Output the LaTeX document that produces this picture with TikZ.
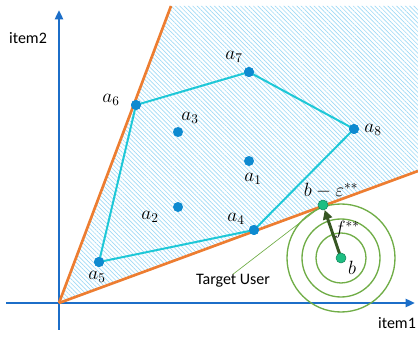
\documentclass[tikz,border=0pt]{standalone}
\usepackage{fontspec}
\newfontfamily\axisfont{Carlito}
\usetikzlibrary{arrows.meta,patterns.meta}
\definecolor{axisBlue}{RGB}{28,110,200}
\definecolor{coneOrange}{RGB}{237,125,49}
\definecolor{hullCyan}{RGB}{30,200,215}
\definecolor{itemBlue}{RGB}{14,138,208}
\definecolor{userGreen}{RGB}{30,190,130}
\definecolor{ringGreen}{RGB}{112,173,71}
\definecolor{shiftGreen}{RGB}{55,86,35}
\definecolor{hatchBlue}{RGB}{160,218,245}

\begin{document}
\begin{tikzpicture}[
  x=0.75pt,y=-0.75pt,
  >=Latex,
  axis/.style={->,line width=2pt,draw=axisBlue,-{Triangle[length=7pt,width=6pt]}},
  cone/.style={line width=2pt,draw=coneOrange},
  hull/.style={line width=1.5pt,draw=hullCyan},
  item/.style={circle,fill=itemBlue,inner sep=0pt,minimum size=7.5pt},
  user/.style={circle,fill=userGreen,draw=userGreen!70!black,line width=0.4pt,inner sep=0pt,minimum size=7.5pt},
  ring/.style={line width=1pt,draw=ringGreen},
  lbl/.style={font=\fontsize{14}{16}\selectfont,inner sep=0pt},
  axislbl/.style={font=\axisfont\fontsize{12}{14}\selectfont,inner sep=0pt}
]
\useasboundingbox (0,0) rectangle (418,338);

% hatched cone between the two orange rays
\coordinate (O) at (59,303);
\coordinate (upper) at (171,6);
\coordinate (lower) at (418,171);
\fill[pattern={Lines[angle=-45,distance=2.3pt,line width=0.5pt]},pattern color=hatchBlue]
  (O) -- (upper) -- (418,6) -- (lower) -- cycle;

% axes
\coordinate (xstart) at (6,303);
\coordinate (xend) at (415,303);
\coordinate (ystart) at (59,330);
\coordinate (yend) at (59,10);
\draw[axis] (xstart) -- (xend);
\draw[axis] (ystart) -- (yend);
\node[axislbl] (item1) at (397,323) {item1};
\node[axislbl] (item2) at (28,38) {item2};

\draw[cone] (O) -- (upper);
\draw[cone] (O) -- (lower);

% items
\node[item] (a1) at (249,161) {};
\node[item] (a2) at (178,207) {};
\node[item] (a3) at (178,132) {};
\node[item] (a4) at (254,230) {};
\node[item] (a5) at (99,262) {};
\node[item] (a6) at (136,105) {};
\node[item] (a7) at (249,72) {};
\node[item] (a8) at (354,129) {};

\draw[hull] (a5.center) -- (a6.center) -- (a7.center) -- (a8.center) -- (a4.center) -- cycle;
\foreach \n in {a4,a5,a6,a7,a8} \node[item] at (\n) {};

\node[lbl] at (111,100) {$a_6$};
\node[lbl] at (190,118) {$a_3$};
\node[lbl] at (234,57) {$a_7$};
\node[lbl] at (373,130) {$a_8$};
\node[lbl] at (253,179) {$a_1$};
\node[lbl] at (150,217) {$a_2$};
\node[lbl] at (97,277) {$a_5$};
\node[lbl] at (236,219) {$a_4$};

% target user and its level sets
\coordinate (b) at (341,258);
\draw[ring] (b) circle[radius=25];
\draw[ring] (b) circle[radius=39];
\draw[ring] (b) circle[radius=54];

\node[axislbl] (target) at (233,281) {Target User};
\node[user] (beps) at (323,205) {};
\draw[ringGreen,line width=0.5pt] (target.north) -- (beps);
\draw[->,line width=2.2pt,draw=shiftGreen,-{Triangle[length=7pt,width=7pt]}] (b) -- (beps);
\node[user] (bdot) at (b) {};

\node[lbl] at (331,191) {$b-\varepsilon^{**}$};
\node[lbl] at (347,230) {$f^{**}$};
\node[lbl] at (352,268) {$b$};
\end{tikzpicture}
\end{document}
